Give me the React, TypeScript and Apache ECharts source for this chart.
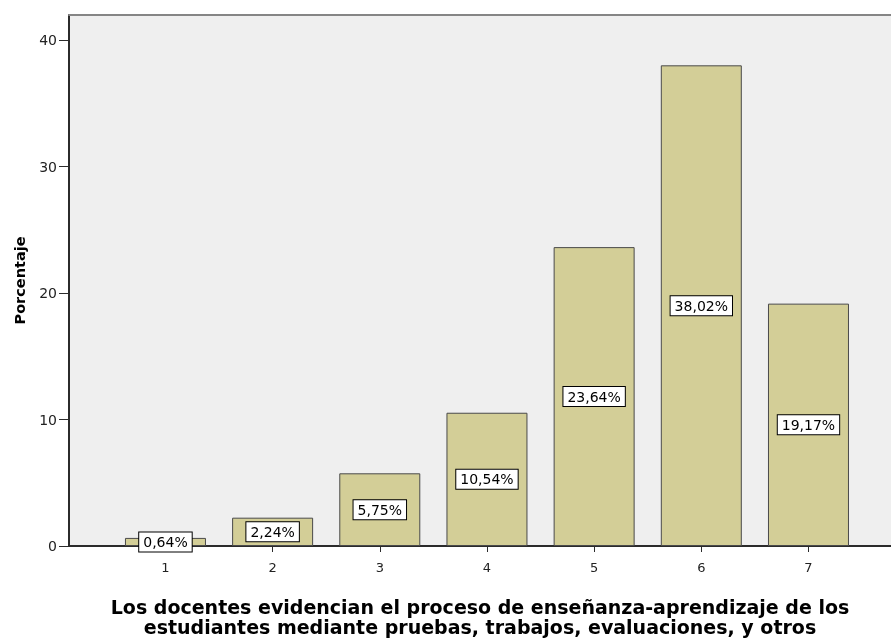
import React, { useEffect, useRef } from "react";
import * as echarts from "echarts";

// Response levels on the 1–7 scale and the share of answers for each
const categories = [1, 2, 3, 4, 5, 6, 7];
const percentages = [0.64, 2.24, 5.75, 10.54, 23.64, 38.02, 19.17];
const yTicks = [0, 10, 20, 30, 40];

const xTitle =
  "Los docentes evidencian el proceso de enseñanza-aprendizaje de los\nestudiantes mediante pruebas, trabajos, evaluaciones, y otros";
const yTitle = "Porcentaje";

const fmt = (v: number) => v.toFixed(2).replace(".", ",") + "%";

export default function App() {
  const ref = useRef<HTMLDivElement>(null);

  useEffect(() => {
    if (!ref.current) return;
    const chart = echarts.init(ref.current, undefined, { renderer: "svg" });
    const font = "'DejaVu Sans', Verdana, sans-serif";
    const xMin = 0.1;
    const xMax = 7.77;

    chart.setOption({
      animation: false,
      grid: {
        left: 69,
        right: 0,
        top: 15,
        bottom: 97,
        show: true,
        backgroundColor: "#efefef",
        borderWidth: 0,
      },
      xAxis: [
        {
          type: "value",
          min: xMin,
          max: xMax,
          name: xTitle,
          nameLocation: "middle",
          nameGap: 51,
          nameTextStyle: {
            fontFamily: font,
            fontWeight: "bold",
            fontSize: 19,
            color: "#000",
            lineHeight: 20,
          },
          splitLine: { show: false },
          axisLine: { show: true, onZero: false, lineStyle: { color: "#2b2b2b", width: 2 } },
          axisTick: {
            show: true,
            length: 6,
            customValues: categories,
            lineStyle: { color: "#2b2b2b", width: 1 },
          },
          axisLabel: {
            customValues: categories,
            margin: 15,
            fontFamily: font,
            fontSize: 13,
            color: "#222",
          },
        },
        {
          // top frame line of the plot area
          type: "value",
          position: "top",
          min: xMin,
          max: xMax,
          splitLine: { show: false },
          axisLine: { show: true, onZero: false, lineStyle: { color: "#858585", width: 2 } },
          axisTick: { show: false },
          axisLabel: { show: false },
        },
      ],
      yAxis: {
        type: "value",
        min: 0,
        max: 42,
        name: yTitle,
        nameLocation: "middle",
        nameGap: 42,
        nameTextStyle: {
          fontFamily: font,
          fontWeight: "bold",
          fontSize: 14.5,
          color: "#000",
        },
        splitLine: { show: false },
        axisLine: { show: true, lineStyle: { color: "#2b2b2b", width: 2 } },
        axisTick: {
          show: true,
          length: 10,
          customValues: yTicks,
          lineStyle: { color: "#2b2b2b", width: 1 },
        },
        axisLabel: {
          customValues: yTicks,
          margin: 12,
          fontFamily: font,
          fontSize: 14,
          color: "#222",
        },
      },
      series: [
        {
          type: "bar",
          xAxisIndex: 0,
          data: categories.map((c, i) => [c, percentages[i]]),
          barWidth: 81,
          itemStyle: {
            color: "#d3ce97",
            borderColor: "#4a4a4a",
            borderWidth: 1,
          },
          label: {
            show: true,
            position: "inside",
            formatter: (p: any) => fmt(p.value[1]),
            fontFamily: font,
            fontSize: 14,
            color: "#000",
            backgroundColor: "#fff",
            borderColor: "#000",
            borderWidth: 1,
            padding: [3, 4, 2, 4],
          },
        },
      ],
    });

    return () => chart.dispose();
  }, []);

  return (
    <div
      ref={ref}
      style={{ position: "fixed", left: 0, top: 0, width: 891, height: 643 }}
    />
  );
}
